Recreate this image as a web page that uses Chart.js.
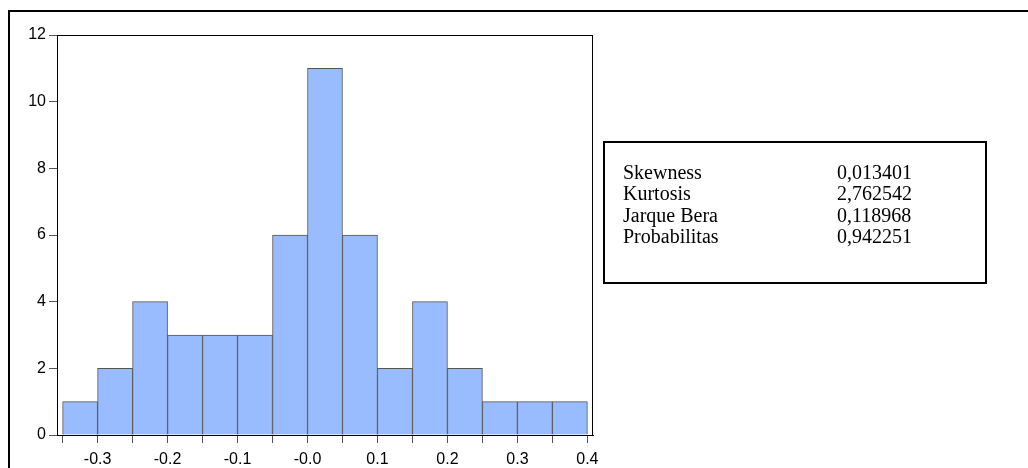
<!DOCTYPE html>
<html>
<head>
<meta charset="utf-8">
<script src="https://cdn.jsdelivr.net/npm/chart.js@4.4.1/dist/chart.umd.min.js"></script>
<style>
  body { margin: 0; background: #fff; }
  #wrap { position: relative; width: 1028px; height: 468px; overflow: hidden; }
  #frame { position: absolute; left: 8px; top: 10px; width: 1100px; height: 600px;
           border-top: 2px solid #000; border-left: 2px solid #000; }
  #chart { position: absolute; left: 0; top: 0; }
  #stats { position: absolute; left: 603px; top: 141px; width: 380px; height: 139px;
           border: 2px solid #000; }
  .row { position: absolute; font: 20px "Liberation Serif", "Times New Roman", serif;
         line-height: 21.5px; color: #000; white-space: nowrap; }
</style>
</head>
<body>
<div id="wrap">
  <div id="frame"></div>
  <canvas id="chart" width="1028" height="468"></canvas>
  <div id="stats"></div>
</div>
<script>
// histogram bins (centres) and counts
const binCenters = [-0.325, -0.275, -0.225, -0.175, -0.125, -0.075, -0.025, 0.025,
                    0.075, 0.125, 0.175, 0.225, 0.275, 0.325, 0.375];
const counts = [1, 2, 4, 3, 3, 3, 6, 11, 6, 2, 4, 2, 1, 1, 1];

// x ticks at every bin edge, labels only every 0.1
const xTickValues = [-0.35, -0.3, -0.25, -0.2, -0.15, -0.1, -0.05, 0, 0.05, 0.1,
                     0.15, 0.2, 0.25, 0.3, 0.35, 0.4];
const xTickLabels = ['', '-0.3', '', '-0.2', '', '-0.1', '', '-0.0', '', '0.1',
                     '', '0.2', '', '0.3', '', '0.4'];
const yTickValues = [0, 2, 4, 6, 8, 10, 12];

const statNames = ['Skewness', 'Kurtosis', 'Jarque Bera', 'Probabilitas'];
const statValues = ['0,013401', '2,762542', '0,118968', '0,942251'];

// stats box text
const wrap = document.getElementById('wrap');
statNames.forEach((name, i) => {
  const a = document.createElement('div');
  a.className = 'row';
  a.style.left = '623px';
  a.style.top = (161.5 + i * 21.5) + 'px';
  a.textContent = name;
  wrap.appendChild(a);
  const b = document.createElement('div');
  b.className = 'row';
  b.style.left = '837px';
  b.style.top = (161.5 + i * 21.5) + 'px';
  b.textContent = statValues[i];
  wrap.appendChild(b);
});

// box round the plot area
const plotFrame = {
  id: 'plotFrame',
  afterDraw(chart) {
    const { ctx, chartArea: a } = chart;
    ctx.save();
    ctx.strokeStyle = '#000';
    ctx.lineWidth = 1;
    ctx.strokeRect(a.left + 0.5, a.top + 0.5, a.right - a.left - 1, a.bottom - a.top);
    ctx.restore();
  }
};

const ctx = document.getElementById('chart').getContext('2d');
new Chart(ctx, {
  type: 'bar',
  data: {
    datasets: [{
      data: binCenters.map((c, i) => ({ x: c, y: counts[i] })),
      backgroundColor: '#99bbff',
      borderColor: '#555',
      borderWidth: 1,
      barPercentage: 1,
      categoryPercentage: 1
    }]
  },
  options: {
    responsive: false,
    animation: false,
    layout: { padding: { top: 35, right: 435, bottom: 0, left: 0 } },
    plugins: { legend: { display: false }, tooltip: { enabled: false } },
    scales: {
      x: {
        type: 'linear',
        offset: false,
        min: -0.358,
        max: 0.408,
        afterBuildTicks(scale) {
          scale.ticks = xTickValues.map(v => ({ value: v }));
        },
        afterFit(scale) { scale.height = 33; },
        ticks: {
          autoSkip: false,
          maxRotation: 0,
          padding: 7,
          color: '#000',
          font: { family: 'Liberation Sans, Arial', size: 16 },
          callback: (v, i) => xTickLabels[i]
        },
        grid: { offset: false, drawOnChartArea: false, drawTicks: true, tickLength: 8, color: '#555' },
        border: { display: true, color: '#000' }
      },
      y: {
        min: 0,
        max: 12,
        afterBuildTicks(scale) {
          scale.ticks = yTickValues.map(v => ({ value: v }));
        },
        afterFit(scale) { scale.width = 57; },
        ticks: {
          padding: 3,
          color: '#000',
          font: { family: 'Liberation Sans, Arial', size: 16 }
        },
        grid: { drawOnChartArea: false, drawTicks: true, tickLength: 8, color: '#555' },
        border: { display: true, color: '#000' }
      }
    }
  },
  plugins: [plotFrame]
});
</script>
</body>
</html>
